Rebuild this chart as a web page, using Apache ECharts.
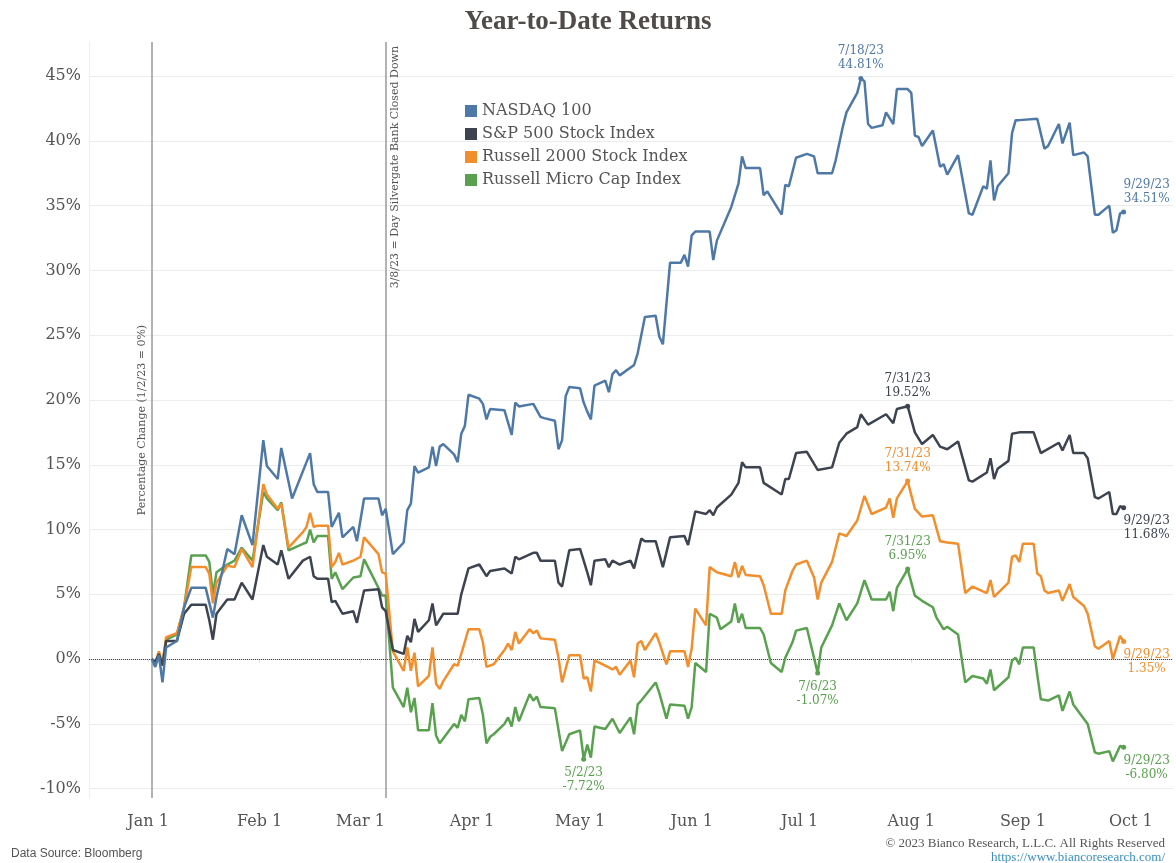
<!DOCTYPE html>
<html>
<head>
<meta charset="utf-8">
<script src="https://cdn.jsdelivr.net/npm/echarts@6/dist/echarts.min.js"></script>
<style>
  html, body { margin: 0; padding: 0; background: #fff; }
  #chart { width: 1176px; height: 863px; }
</style>
</head>
<body>
<div id="chart"></div>
<script>
// YTD % change, 1/2/23 = 0 ([MM-DD, %])
const nasdaq = [
  ['01-02',0],['01-03',-0.6],['01-04',0.3],['01-05',-1.8],['01-06',0.9],['01-09',1.4],['01-11',4.0],['01-13',5.5],
  ['01-17',5.5],['01-19',3.2],['01-20',4.8],['01-23',8.5],['01-25',8.1],['01-27',11.1],['01-30',8.8],['02-02',16.9],
  ['02-03',14.9],['02-06',13.9],['02-07',16.3],['02-10',12.4],['02-15',15.9],['02-16',13.5],['02-17',12.9],['02-20',12.9],
  ['02-21',10.2],['02-23',11.3],['02-24',9.4],['02-27',10.2],['02-28',9.1],['03-02',12.4],['03-06',12.4],['03-07',11.1],
  ['03-08',11.6],['03-10',8.1],['03-13',9.0],['03-14',11.5],['03-15',12.0],['03-16',14.9],['03-17',14.4],['03-20',14.8],
  ['03-21',16.4],['03-22',14.9],['03-23',16.4],['03-24',16.6],['03-27',15.8],['03-28',15.2],['03-29',17.4],['03-30',18.0],
  ['03-31',20.4],['04-03',20.1],['04-04',19.7],['04-05',18.5],['04-06',19.3],['04-10',19.2],['04-12',17.3],['04-13',19.8],
  ['04-14',19.5],['04-18',19.7],['04-20',18.7],['04-21',18.6],['04-24',18.4],['04-25',16.2],['04-26',16.9],['04-27',20.3],
  ['04-28',21.0],['05-01',20.9],['05-02',19.8],['05-03',19.1],['05-04',18.5],['05-05',21.1],['05-08',21.5],['05-09',20.6],
  ['05-10',22.0],['05-11',22.3],['05-12',21.9],['05-16',22.7],['05-17',23.6],['05-18',25.0],['05-19',26.4],['05-22',26.5],
  ['05-23',24.9],['05-24',24.3],['05-26',30.6],['05-29',30.6],['05-30',31.2],['05-31',30.3],['06-01',32.7],['06-02',33.0],
  ['06-06',33.0],['06-07',30.8],['06-08',32.3],['06-12',34.9],['06-14',36.7],['06-15',38.8],['06-16',37.9],['06-20',37.9],
  ['06-21',35.8],['06-22',36.1],['06-26',34.3],['06-27',36.6],['06-28',36.5],['06-30',38.7],['07-03',39.0],['07-05',38.8],
  ['07-06',37.5],['07-10',37.5],['07-11',38.5],['07-13',41.1],['07-14',42.2],['07-17',43.7],['07-18',44.81],['07-19',44.6],
  ['07-20',41.3],['07-21',41.0],['07-24',41.2],['07-25',42.2],['07-27',41.3],['07-28',44.0],['07-31',44.0],['08-01',43.7],
  ['08-02',40.4],['08-03',40.3],['08-04',39.6],['08-07',40.8],['08-09',38.0],['08-10',38.2],['08-11',37.4],['08-14',38.9],
  ['08-17',34.4],['08-18',34.3],['08-21',36.5],['08-22',36.3],['08-23',38.5],['08-24',35.4],['08-25',36.5],['08-28',37.5],
  ['08-29',40.6],['08-30',41.6],['08-31',41.6],['09-05',41.7],['09-07',39.4],['09-08',39.6],['09-11',41.3],['09-12',39.8],
  ['09-14',41.4],['09-15',38.9],['09-18',39.1],['09-19',38.8],['09-21',34.3],['09-22',34.3],['09-25',35.0],['09-26',32.9],
  ['09-27',33.1],['09-28',34.4],['09-29',34.51]
];

const spx = [
  ['01-02',0],['01-03',-0.2],['01-04',0.4],['01-05',-0.5],['01-06',1.4],['01-09',1.4],['01-11',3.5],['01-13',4.2],
  ['01-17',4.2],['01-18',3.0],['01-19',1.5],['01-20',3.5],['01-23',4.6],['01-25',4.6],['01-27',5.9],['01-30',4.6],
  ['02-02',8.8],['02-03',7.9],['02-06',7.3],['02-07',8.4],['02-09',6.2],['02-13',7.6],['02-15',7.9],['02-16',6.4],
  ['02-17',6.2],['02-20',6.2],['02-21',4.4],['02-22',4.5],['02-24',3.5],['02-27',3.7],['02-28',2.8],['03-02',5.3],
  ['03-06',5.4],['03-07',4.0],['03-08',3.7],['03-10',0.7],['03-13',0.4],['03-14',1.8],['03-15',1.3],['03-16',3.1],
  ['03-17',2.1],['03-20',3.0],['03-21',4.3],['03-22',2.6],['03-24',3.5],['03-28',3.5],['03-29',5.0],['03-31',7.0],
  ['04-03',7.3],['04-05',6.4],['04-06',6.8],['04-10',7.0],['04-12',6.6],['04-13',7.9],['04-14',7.7],['04-18',8.2],
  ['04-19',8.2],['04-20',7.6],['04-24',7.6],['04-25',5.9],['04-26',5.6],['04-28',8.4],['05-01',8.5],['05-03',6.7],
  ['05-04',5.7],['05-05',7.6],['05-08',7.7],['05-09',7.1],['05-10',7.6],['05-12',7.3],['05-15',7.6],['05-16',7.0],
  ['05-18',9.3],['05-19',9.1],['05-22',9.1],['05-24',7.1],['05-26',9.4],['05-30',9.5],['05-31',8.8],['06-02',11.4],
  ['06-05',11.2],['06-06',11.5],['06-07',11.1],['06-08',11.7],['06-12',12.7],['06-14',13.6],['06-15',15.2],['06-16',14.8],
  ['06-20',14.8],['06-21',13.6],['06-26',12.7],['06-27',13.9],['06-28',13.9],['06-30',15.9],['07-03',16.0],['07-06',14.6],
  ['07-10',14.8],['07-12',16.7],['07-14',17.4],['07-17',17.9],['07-18',18.9],['07-20',18.1],['07-25',18.9],['07-27',18.2],
  ['07-28',19.3],['07-31',19.52],['08-02',17.5],['08-04',16.6],['08-07',17.3],['08-09',16.4],['08-11',16.2],['08-14',16.8],
  ['08-17',13.8],['08-18',13.7],['08-22',14.4],['08-23',15.5],['08-24',13.9],['08-25',14.7],['08-28',15.3],['08-29',17.4],
  ['08-31',17.5],['09-04',17.5],['09-06',15.9],['09-11',16.7],['09-12',16.1],['09-14',17.3],['09-15',15.9],['09-18',15.9],
  ['09-19',15.5],['09-21',12.5],['09-22',12.4],['09-25',12.9],['09-26',11.2],['09-27',11.2],['09-28',11.8],['09-29',11.68]
];

const russell2000 = [
  ['01-02',0],['01-03',-0.3],['01-04',0.6],['01-05',-0.4],['01-06',1.7],['01-09',2.0],['01-11',4.0],['01-13',7.1],
  ['01-17',7.1],['01-18',6.6],['01-19',4.3],['01-20',5.9],['01-23',7.2],['01-25',7.1],['01-27',8.5],['01-30',7.1],
  ['02-02',13.5],['02-03',12.7],['02-06',11.6],['02-07',12.0],['02-09',8.6],['02-13',9.8],['02-14',10.2],['02-15',11.3],
  ['02-16',10.2],['02-17',10.3],['02-20',10.3],['02-21',7.1],['02-22',7.5],['02-23',8.2],['02-24',7.3],['02-27',7.6],
  ['03-01',7.9],['03-02',9.4],['03-06',8.1],['03-07',6.7],['03-08',6.6],['03-10',0.6],['03-13',-0.9],['03-14',0.9],
  ['03-15',-0.9],['03-16',0.5],['03-17',-2.1],['03-20',-1.3],['03-21',0.9],['03-22',-1.9],['03-23',-2.3],['03-24',-1.7],
  ['03-27',-0.4],['03-28',-0.5],['03-29',0.4],['03-31',2.3],['04-03',2.3],['04-04',1.3],['04-05',-0.6],['04-07',-0.4],
  ['04-10',0.7],['04-11',1.2],['04-12',0.7],['04-13',2.1],['04-14',1.2],['04-17',2.3],['04-18',2.0],['04-19',2.2],
  ['04-20',1.6],['04-24',1.5],['04-25',0.1],['04-26',-1.8],['04-28',0.3],['05-01',0.3],['05-02',-1.5],['05-03',-1.4],
  ['05-04',-2.5],['05-05',-0.1],['05-08',-0.5],['05-10',-0.8],['05-11',-0.6],['05-12',-1.2],['05-15',-0.1],['05-16',-1.4],
  ['05-17',1.2],['05-18',1.4],['05-19',0.7],['05-22',2.0],['05-23',1.3],['05-25',-0.4],['05-26',0.6],['05-30',0.6],
  ['05-31',-0.6],['06-01',0.8],['06-02',3.9],['06-05',2.6],['06-06',7.1],['06-08',6.7],['06-12',6.4],['06-13',7.5],
  ['06-14',6.3],['06-15',7.2],['06-16',6.5],['06-20',6.4],['06-21',5.7],['06-23',3.5],['06-26',3.5],['06-27',5.3],
  ['06-29',6.8],['06-30',7.3],['07-03',7.6],['07-05',6.3],['07-06',4.6],['07-07',5.9],['07-10',7.5],['07-12',9.7],
  ['07-14',9.5],['07-17',10.7],['07-19',12.6],['07-21',11.2],['07-25',11.7],['07-26',12.4],['07-27',10.9],['07-28',12.4],
  ['07-31',13.74],['08-02',11.6],['08-04',11.0],['08-07',11.1],['08-09',9.1],['08-11',9.0],['08-14',8.9],['08-16',5.1],
  ['08-18',5.6],['08-22',5.1],['08-23',6.1],['08-24',4.8],['08-28',5.9],['08-29',7.9],['08-30',8.0],['08-31',7.5],
  ['09-01',8.9],['09-04',8.9],['09-05',6.6],['09-06',6.4],['09-07',5.3],['09-08',5.1],['09-11',5.3],['09-12',4.5],
  ['09-14',5.8],['09-15',4.8],['09-18',4.1],['09-19',3.5],['09-21',1.0],['09-22',0.8],['09-25',1.4],['09-26',0.0],
  ['09-28',1.8],['09-29',1.35]
];

const microCap = [
  ['01-02',0],['01-03',-0.3],['01-04',0.3],['01-05',-0.4],['01-06',1.5],['01-09',1.9],['01-11',4.0],['01-13',8.0],
  ['01-17',8.0],['01-18',7.5],['01-19',5.0],['01-20',6.7],['01-23',7.3],['01-25',7.6],['01-27',8.6],['01-30',7.6],
  ['02-02',12.9],['02-03',12.4],['02-06',11.5],['02-07',12.1],['02-09',8.4],['02-13',8.9],['02-14',9.0],['02-15',10.0],
  ['02-16',9.0],['02-17',9.5],['02-20',9.5],['02-21',6.2],['02-22',6.7],['02-24',5.4],['02-27',6.3],['03-01',6.4],
  ['03-02',7.7],['03-06',5.5],['03-07',4.9],['03-08',4.9],['03-10',-2.2],['03-13',-3.7],['03-14',-2.2],['03-15',-4.1],
  ['03-16',-3.0],['03-17',-5.5],['03-20',-5.5],['03-21',-3.4],['03-22',-5.9],['03-23',-6.5],['03-27',-5.0],['03-28',-5.3],
  ['03-29',-4.3],['03-30',-4.8],['03-31',-3.1],['04-03',-3.0],['04-04',-4.3],['04-05',-6.5],['04-06',-6.0],['04-07',-5.8],
  ['04-10',-5.0],['04-11',-4.5],['04-12',-5.2],['04-13',-3.7],['04-14',-4.8],['04-17',-2.7],['04-18',-3.2],['04-19',-2.9],
  ['04-20',-3.7],['04-24',-3.8],['04-26',-7.1],['04-28',-5.8],['05-01',-5.5],['05-02',-7.72],['05-03',-6.6],['05-04',-7.6],
  ['05-05',-5.2],['05-08',-5.4],['05-10',-4.6],['05-12',-5.7],['05-15',-4.5],['05-16',-5.8],['05-17',-3.5],['05-18',-3.2],
  ['05-22',-1.8],['05-23',-2.6],['05-25',-4.6],['05-26',-3.5],['05-30',-3.6],['05-31',-4.6],['06-01',-3.7],['06-02',-0.3],
  ['06-05',-1.0],['06-06',3.5],['06-08',3.2],['06-09',2.3],['06-12',2.9],['06-13',4.3],['06-14',2.8],['06-15',3.5],
  ['06-16',2.4],['06-20',2.4],['06-21',1.9],['06-23',-0.3],['06-26',-1.0],['06-27',0.1],['06-29',1.3],['06-30',2.2],
  ['07-03',2.4],['07-06',-1.07],['07-07',0.9],['07-10',2.6],['07-12',4.3],['07-14',3.0],['07-17',4.3],['07-19',6.1],
  ['07-21',4.6],['07-25',4.6],['07-26',5.2],['07-27',3.7],['07-28',5.5],['07-31',6.95],['08-02',4.9],['08-04',4.5],
  ['08-07',4.0],['08-08',3.2],['08-10',2.3],['08-11',2.5],['08-14',1.9],['08-16',-1.8],['08-18',-1.3],['08-21',-1.5],
  ['08-22',-1.9],['08-23',-0.8],['08-24',-2.4],['08-28',-1.4],['08-29',-0.1],['08-30',0.1],['08-31',-0.4],['09-01',0.9],
  ['09-04',0.9],['09-05',-1.2],['09-06',-3.1],['09-08',-3.2],['09-11',-2.8],['09-12',-4.0],['09-14',-2.5],['09-15',-3.5],
  ['09-19',-5.0],['09-21',-7.2],['09-22',-7.3],['09-25',-7.1],['09-26',-7.9],['09-28',-6.7],['09-29',-6.8]
];

const seriesNames = ['NASDAQ 100', 'S&P 500 Stock Index', 'Russell 2000 Stock Index', 'Russell Micro Cap Index'];
const colors = ['#4e79a7', '#3d4450', '#f28e2b', '#59a14f'];
const allData = [nasdaq, spx, russell2000, microCap];

const monthNames = ['Jan', 'Feb', 'Mar', 'Apr', 'May', 'Jun', 'Jul', 'Aug', 'Sep', 'Oct'];
const yTicks = [-10, -5, 0, 5, 10, 15, 20, 25, 30, 35, 40, 45];

// annotated points: [series index, MM-DD, value, label side]
const notes = [
  [0, '07-18', 44.81, 'top'],
  [0, '09-29', 34.51, 'topEnd'],
  [1, '07-31', 19.52, 'top'],
  [1, '09-29', 11.68, 'bottomEnd'],
  [2, '07-31', 13.74, 'top'],
  [2, '09-29', 1.35, 'bottomEnd'],
  [3, '05-02', -7.72, 'bottom'],
  [3, '07-06', -1.07, 'bottom'],
  [3, '07-31', 6.95, 'top'],
  [3, '09-29', -6.80, 'bottomEnd']
];

const serif = 'DejaVu Serif';
const DAY = 86400000;
const toTime = (md) => {
  const [m, d] = md.split('-').map(Number);
  return Date.UTC(2023, m - 1, d);
};
const monthTicks = monthNames.map((m, i) => Date.UTC(2023, i, 1));

function buildSeries(idx) {
  const marks = notes.filter(n => n[0] === idx).map(([, md, v, side]) => {
    const [m, d] = md.split('-').map(Number);
    const isEnd = side.endsWith('End');
    return {
      coord: [toTime(md), v],
      label: {
        show: true,
        position: side.startsWith('top') ? 'top' : 'bottom',
        distance: 4,
        offset: isEnd ? [23, 0] : [0, 0],
        formatter: m + '/' + d + '/23\n' + v.toFixed(2) + '%',
        color: colors[idx],
        fontFamily: serif,
        fontSize: 12,
        lineHeight: 14,
        align: 'center'
      }
    };
  });

  const s = {
    name: seriesNames[idx],
    type: 'line',
    showSymbol: false,
    symbol: 'none',
    data: allData[idx].map(([md, v]) => [toTime(md), v]),
    lineStyle: { width: 2.5, color: colors[idx] },
    itemStyle: { color: colors[idx] },
    z: 10 - idx,
    markPoint: {
      symbol: 'circle',
      symbolSize: 5,
      silent: true,
      itemStyle: { color: colors[idx] },
      data: marks
    }
  };

  if (idx === 0) {
    s.markLine = {
      silent: true,
      symbol: 'none',
      animation: false,
      data: [
        {
          xAxis: toTime('01-02'),
          lineStyle: { color: '#9a9a9a', width: 1.5, type: 'solid' },
          label: {
            show: true, position: 'insideMiddleTop', distance: 4,
            formatter: 'Percentage Change (1/2/23 = 0%)',
            color: '#555', fontFamily: serif, fontSize: 11
          }
        },
        {
          xAxis: toTime('03-08'),
          lineStyle: { color: '#9a9a9a', width: 1.5, type: 'solid' },
          label: {
            show: true, position: 'insideEndBottom', distance: 4,
            formatter: '3/8/23 = Day Silvergate Bank Closed Down',
            color: '#555', fontFamily: serif, fontSize: 11
          }
        },
        {
          yAxis: 0,
          lineStyle: { color: '#444', width: 1, type: 'dotted' },
          label: { show: false }
        }
      ]
    };
  }
  return s;
}

const chart = echarts.init(document.getElementById('chart'));
chart.setOption({
  animation: false,
  backgroundColor: '#fff',
  title: [
    {
      text: 'Year-to-Date Returns',
      left: 'center',
      top: 4,
      textStyle: { fontFamily: 'Liberation Serif', fontWeight: 'bold', fontSize: 27, color: '#4f4b48' }
    },
    {
      text: 'Data Source: Bloomberg',
      left: 6,
      top: 843,
      textStyle: { fontFamily: 'Liberation Sans', fontWeight: 'normal', fontSize: 12, color: '#555' }
    },
    {
      text: '© 2023 Bianco Research, L.L.C. All Rights Reserved',
      right: 6,
      top: 832,
      textStyle: { fontFamily: 'Liberation Serif', fontWeight: 'normal', fontSize: 13, color: '#555' }
    },
    {
      text: 'https://www.biancoresearch.com/',
      right: 6,
      top: 846,
      textStyle: { fontFamily: 'Liberation Serif', fontWeight: 'normal', fontSize: 13, color: '#3a8fc0' }
    }
  ],
  legend: {
    data: seriesNames,
    orient: 'vertical',
    left: 460,
    top: 97,
    icon: 'rect',
    itemWidth: 12,
    itemHeight: 12,
    itemGap: 5,
    textStyle: { fontFamily: serif, fontSize: 16, lineHeight: 18, color: '#555' }
  },
  grid: { left: 89, right: 3, top: 42, bottom: 65 },
  xAxis: {
    type: 'value',
    min: Date.UTC(2022, 11, 15, 14),
    max: Date.UTC(2023, 9, 12, 17),
    axisLine: { show: true, lineStyle: { color: '#e3e3e3' } },
    axisTick: { show: true, customValues: monthTicks, lineStyle: { color: '#e3e3e3' }, length: 4 },
    splitLine: { show: false },
    axisLabel: {
      customValues: monthTicks,
      formatter: (v) => monthNames[new Date(v + DAY / 2).getUTCMonth()] + ' 1',
      fontFamily: serif,
      fontSize: 16,
      color: '#555',
      margin: 16
    }
  },
  yAxis: {
    type: 'value',
    min: -10.72,
    max: 47.63,
    axisLine: { show: true, lineStyle: { color: '#eeeeee' } },
    axisTick: { show: false, customValues: yTicks },
    splitLine: { show: true, lineStyle: { color: '#ececec', width: 1 } },
    axisLabel: {
      customValues: yTicks,
      formatter: (v) => v + '%',
      fontFamily: serif,
      fontSize: 16,
      color: '#555',
      margin: 8
    }
  },
  series: [0, 1, 2, 3].map(buildSeries)
});
</script>
</body>
</html>
